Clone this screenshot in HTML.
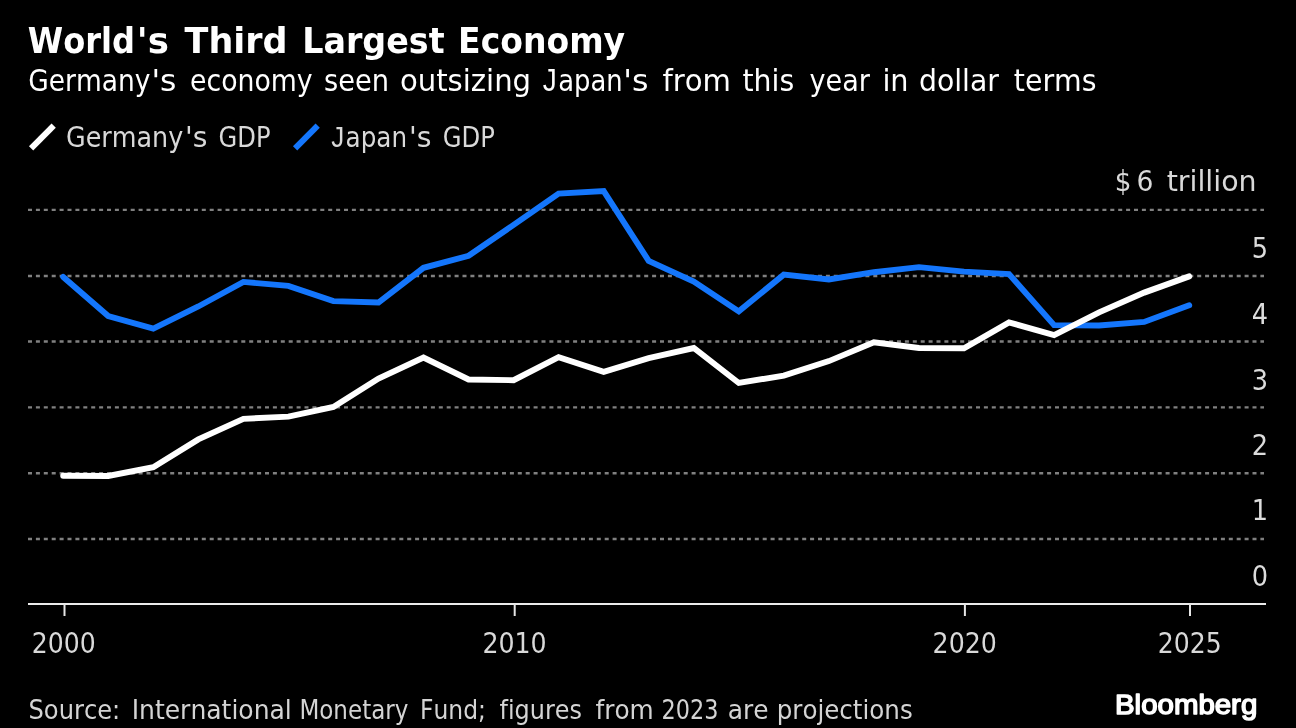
<!DOCTYPE html>
<html lang="en">
<head>
<meta charset="utf-8">
<title>World's Third Largest Economy</title>
<style>
html,body{margin:0;padding:0;background:#000;}
body{width:1296px;height:728px;overflow:hidden;}
svg{display:block;}
text{font-family:"DejaVu Sans Condensed","DejaVu Sans","Liberation Sans",sans-serif;fill:#dcdcdc;font-variant-ligatures:none;font-kerning:none;}
.title{font-family:"DejaVu Sans","Liberation Sans",sans-serif;font-weight:bold;font-size:35.5px;fill:#fff;}
.sub{font-size:30.8px;fill:#fff;}
.lab{font-size:28.5px;fill:#d9d9d9;}
.src{font-size:27px;fill:#d4d4d4;}
.lj{font-family:"Liberation Sans",sans-serif;}
.logo{font-family:"Liberation Sans",sans-serif;font-weight:normal;font-size:28.2px;fill:#fff;stroke:#fff;stroke-width:1.5px;stroke-linejoin:round;}
.grid line{stroke:#808080;stroke-width:2.4;stroke-dasharray:4 3.9;}
.ticks line{stroke:#e6e6e6;stroke-width:2;}
</style>
</head>
<body>
<svg width="1296" height="728" viewBox="0 0 1296 728">
<rect width="1296" height="728" fill="#000"/>
<text class="title" y="53.0"><tspan x="27.8" textLength="107.2" lengthAdjust="spacingAndGlyphs">World</tspan><tspan x="136.8" textLength="32.1" lengthAdjust="spacingAndGlyphs">&#39;s</tspan> <tspan x="184.6" textLength="102.9" lengthAdjust="spacingAndGlyphs">Third</tspan> <tspan x="302.2" textLength="142.4" lengthAdjust="spacingAndGlyphs">Largest</tspan> <tspan x="458.1" textLength="167.0" lengthAdjust="spacingAndGlyphs">Economy</tspan></text>
<text class="sub" y="90.8"><tspan x="28.3" textLength="122.1" lengthAdjust="spacingAndGlyphs">Germany</tspan><tspan x="151.4" textLength="25.0" lengthAdjust="spacingAndGlyphs">&#39;s</tspan> <tspan x="190.0" textLength="122.7" lengthAdjust="spacingAndGlyphs">economy</tspan> <tspan x="324.0" textLength="65.0" lengthAdjust="spacingAndGlyphs">seen</tspan> <tspan x="399.9" textLength="131.2" lengthAdjust="spacingAndGlyphs">outsizing</tspan> <tspan class="lj" style="font-size:31.4px" x="542.7" textLength="14.0" lengthAdjust="spacingAndGlyphs">J</tspan><tspan x="558.2" textLength="64.4" lengthAdjust="spacingAndGlyphs">apan</tspan><tspan x="623.3" textLength="25.2" lengthAdjust="spacingAndGlyphs">&#39;s</tspan> <tspan x="662.5" textLength="68.4" lengthAdjust="spacingAndGlyphs">from</tspan> <tspan x="742.5" textLength="51.7" lengthAdjust="spacingAndGlyphs">this</tspan> <tspan x="809.5" textLength="60.4" lengthAdjust="spacingAndGlyphs">year</tspan> <tspan x="882.4" textLength="26.2" lengthAdjust="spacingAndGlyphs">in</tspan> <tspan x="919.0" textLength="79.9" lengthAdjust="spacingAndGlyphs">dollar</tspan> <tspan x="1013.8" textLength="82.7" lengthAdjust="spacingAndGlyphs">terms</tspan></text>
<text class="lab" y="147.1"><tspan x="66.0" textLength="117.2" lengthAdjust="spacingAndGlyphs">Germany</tspan><tspan x="185.0" textLength="22.4" lengthAdjust="spacingAndGlyphs">&#39;s</tspan> <tspan x="218.6" textLength="51.9" lengthAdjust="spacingAndGlyphs">GDP</tspan></text>
<text class="lab" y="147.1"><tspan class="lj" style="font-size:29.1px" x="331.2" textLength="13.0" lengthAdjust="spacingAndGlyphs">J</tspan><tspan x="345.6" textLength="61.5" lengthAdjust="spacingAndGlyphs">apan</tspan><tspan x="408.9" textLength="22.5" lengthAdjust="spacingAndGlyphs">&#39;s</tspan> <tspan x="442.8" textLength="52.1" lengthAdjust="spacingAndGlyphs">GDP</tspan></text>
<text class="lab" y="190.8"><tspan x="1114.7" textLength="16.7" lengthAdjust="spacingAndGlyphs">$</tspan> <tspan x="1136.5" textLength="16.9" lengthAdjust="spacingAndGlyphs">6</tspan> <tspan x="1166.7" textLength="90.0" lengthAdjust="spacingAndGlyphs">trillion</tspan></text>
<text class="src" y="719.0"><tspan x="28.5" textLength="91.7" lengthAdjust="spacingAndGlyphs">Source:</tspan> <tspan x="131.7" textLength="160.1" lengthAdjust="spacingAndGlyphs">International</tspan> <tspan x="299.4" textLength="109.0" lengthAdjust="spacingAndGlyphs">Monetary</tspan> <tspan x="420.0" textLength="65.9" lengthAdjust="spacingAndGlyphs">Fund;</tspan> <tspan x="499.5" textLength="82.4" lengthAdjust="spacingAndGlyphs">figures</tspan> <tspan x="595.5" textLength="58.2" lengthAdjust="spacingAndGlyphs">from</tspan> <tspan x="661.6" textLength="56.8" lengthAdjust="spacingAndGlyphs">2023</tspan> <tspan x="727.7" textLength="40.8" lengthAdjust="spacingAndGlyphs">are</tspan> <tspan x="776.7" textLength="136.0" lengthAdjust="spacingAndGlyphs">projections</tspan></text>
<text class="lab" y="653.0"><tspan x="31.8" textLength="63.9" lengthAdjust="spacingAndGlyphs">2000</tspan></text>
<text class="lab" y="653.0"><tspan x="482.4" textLength="64.3" lengthAdjust="spacingAndGlyphs">2010</tspan></text>
<text class="lab" y="653.0"><tspan x="932.6" textLength="64.3" lengthAdjust="spacingAndGlyphs">2020</tspan></text>
<text class="lab" y="653.0"><tspan x="1157.8" textLength="63.9" lengthAdjust="spacingAndGlyphs">2025</tspan></text>
<text class="logo" y="714.0"><tspan x="1115.0" textLength="142.3" lengthAdjust="spacingAndGlyphs">Bloomberg</tspan></text>
<g class="legend">
<line x1="31.1" y1="148.4" x2="53.7" y2="125.7" stroke="#fff" stroke-width="6"/>
<line x1="295.1" y1="148.4" x2="317.7" y2="125.7" stroke="#1476fc" stroke-width="6"/>
</g>
<g class="grid"><line x1="28" x2="1264" y1="539.0" y2="539.0"/><line x1="28" x2="1264" y1="473.3" y2="473.3"/><line x1="28" x2="1264" y1="407.4" y2="407.4"/><line x1="28" x2="1264" y1="341.5" y2="341.5"/><line x1="28" x2="1264" y1="276.0" y2="276.0"/><line x1="28" x2="1264" y1="209.9" y2="209.9"/></g>
<g class="lab"><text x="1268" y="585.9" text-anchor="end">0</text><text x="1268" y="520.4" text-anchor="end">1</text><text x="1268" y="454.8" text-anchor="end">2</text><text x="1268" y="389.7" text-anchor="end">3</text><text x="1268" y="323.5" text-anchor="end">4</text><text x="1268" y="257.8" text-anchor="end">5</text></g>
<line x1="28" x2="1266" y1="604" y2="604" stroke="#ebebeb" stroke-width="2.2"/>
<g class="ticks"><line x1="64.5" x2="64.5" y1="604" y2="616"/><line x1="514.7" x2="514.7" y1="604" y2="616"/><line x1="964.9" x2="964.9" y1="604" y2="616"/><line x1="1190.0" x2="1190.0" y1="604" y2="616"/></g>
<g class="lab"></g>
<polyline points="63.2,276.9 108.2,316.0 153.3,328.7 198.3,306.5 243.4,281.9 288.4,285.9 333.4,301.1 378.5,302.5 423.5,267.8 468.6,255.8 513.6,224.9 558.6,193.6 603.7,191.1 648.7,260.9 693.8,281.6 738.8,311.4 783.8,274.6 828.9,279.4 873.9,272.2 919.0,267.1 964.0,271.6 1009.0,274.1 1054.1,325.1 1099.1,325.5 1144.2,321.9 1189.2,305.3" fill="none" stroke="#1476fc" stroke-width="5.9" stroke-linejoin="miter" stroke-linecap="round"/>
<polyline points="63.2,475.8 108.2,476.0 153.3,467.2 198.3,439.4 243.4,418.8 288.4,416.6 333.4,406.9 378.5,378.5 423.5,357.5 468.6,379.5 513.6,380.2 558.6,357.2 603.7,371.8 648.7,358.2 693.8,348.0 738.8,383.0 783.8,375.6 828.9,361.1 873.9,342.3 919.0,348.0 964.0,348.3 1009.0,322.4 1054.1,335.1 1099.1,312.4 1144.2,292.6 1189.2,276.4" fill="none" stroke="#fff" stroke-width="5.9" stroke-linejoin="miter" stroke-linecap="round"/>
</svg>
</body>
</html>
